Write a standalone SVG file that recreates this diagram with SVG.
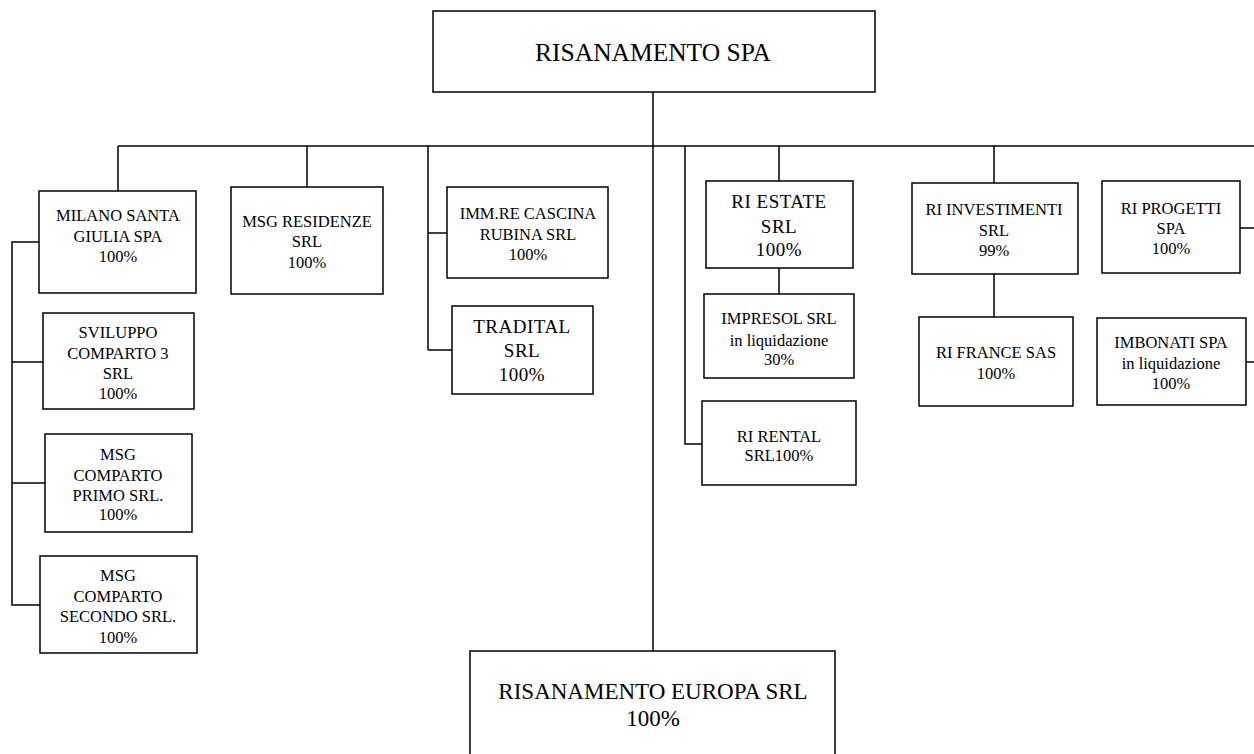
<svg xmlns="http://www.w3.org/2000/svg" width="1254" height="754" viewBox="0 0 1254 754">
<style>
rect.b{fill:#fff;stroke:#000;stroke-width:1.5}
.c line,.c polyline{stroke:#000;stroke-width:1.5;fill:none}
text{font-family:'Liberation Serif','Times New Roman',serif;fill:#000;text-anchor:middle}
.s{font-size:16.5px}
.m{font-size:19px;letter-spacing:0.5px}
.l{font-size:23px}
.t{font-size:25.5px}
</style>
<rect width="1254" height="754" fill="#fff"/>
<g class="c" id="connectors">
<line x1="653" y1="92" x2="653" y2="651"/>
<line x1="118" y1="146" x2="1254" y2="146"/>
<line x1="118" y1="146" x2="118" y2="191"/>
<line x1="307" y1="146" x2="307" y2="187"/>
<line x1="428" y1="146" x2="428" y2="350"/>
<line x1="428" y1="233" x2="447" y2="233"/>
<line x1="428" y1="350" x2="452" y2="350"/>
<polyline points="685,146 685,444 702,444"/>
<line x1="779" y1="146" x2="779" y2="181"/>
<line x1="779" y1="268" x2="779" y2="294"/>
<line x1="994" y1="146" x2="994" y2="183"/>
<line x1="994" y1="274" x2="994" y2="317"/>
<line x1="1240" y1="228" x2="1254" y2="228"/>
<line x1="1246" y1="362" x2="1254" y2="362"/>
<polyline points="39,242 12,242 12,605 40,605"/>
<line x1="12" y1="362" x2="43" y2="362"/>
<line x1="12" y1="483" x2="45" y2="483"/>
</g>
<g id="risanamento-spa"><rect class="b" x="433" y="11" width="442" height="81"/><text class="t" x="653" y="61">RISANAMENTO SPA</text></g>
<g id="milano-santa-giulia"><rect class="b" x="39" y="191" width="157" height="102"/><text class="s" x="118" y="221">MILANO SANTA</text><text class="s" x="118" y="242">GIULIA SPA</text><text class="s" x="118" y="262">100%</text></g>
<g id="msg-residenze"><rect class="b" x="231" y="187" width="152" height="107"/><text class="s" x="307" y="227">MSG RESIDENZE</text><text class="s" x="307" y="247">SRL</text><text class="s" x="307" y="268">100%</text></g>
<g id="sviluppo-comparto-3"><rect class="b" x="43" y="313" width="151" height="96"/><text class="s" x="118" y="338">SVILUPPO</text><text class="s" x="118" y="359">COMPARTO 3</text><text class="s" x="118" y="379">SRL</text><text class="s" x="118" y="399">100%</text></g>
<g id="msg-comparto-primo"><rect class="b" x="45" y="434" width="147" height="98"/><text class="s" x="118" y="460">MSG</text><text class="s" x="118" y="481">COMPARTO</text><text class="s" x="118" y="501">PRIMO SRL.</text><text class="s" x="118" y="520">100%</text></g>
<g id="msg-comparto-secondo"><rect class="b" x="40" y="556" width="157" height="97"/><text class="s" x="118" y="581">MSG</text><text class="s" x="118" y="602">COMPARTO</text><text class="s" x="118" y="622">SECONDO SRL.</text><text class="s" x="118" y="643">100%</text></g>
<g id="imm-cascina-rubina"><rect class="b" x="447" y="187" width="161" height="91"/><text class="s" x="528" y="219">IMM.RE CASCINA</text><text class="s" x="528" y="240">RUBINA SRL</text><text class="s" x="528" y="260">100%</text></g>
<g id="tradital"><rect class="b" x="452" y="306" width="141" height="88"/><text class="m" x="522" y="333">TRADITAL</text><text class="m" x="522" y="357">SRL</text><text class="m" x="522" y="381">100%</text></g>
<g id="ri-estate"><rect class="b" x="706" y="181" width="147" height="87"/><text class="m" x="779" y="208">RI ESTATE</text><text class="m" x="779" y="233">SRL</text><text class="m" x="779" y="256">100%</text></g>
<g id="impresol"><rect class="b" x="704" y="294" width="150" height="84"/><text class="s" x="779" y="324">IMPRESOL SRL</text><text class="s" x="779" y="346">in liquidazione</text><text class="s" x="779" y="365">30%</text></g>
<g id="ri-rental"><rect class="b" x="702" y="401" width="154" height="84"/><text class="s" x="779" y="442">RI RENTAL</text><text class="s" x="779" y="461">SRL100%</text></g>
<g id="ri-investimenti"><rect class="b" x="912" y="183" width="166" height="91"/><text class="s" x="994" y="215">RI INVESTIMENTI</text><text class="s" x="994" y="236">SRL</text><text class="s" x="994" y="256">99%</text></g>
<g id="ri-france"><rect class="b" x="919" y="317" width="154" height="89"/><text class="s" x="996" y="358">RI FRANCE SAS</text><text class="s" x="996" y="379">100%</text></g>
<g id="ri-progetti"><rect class="b" x="1102" y="181" width="138" height="92"/><text class="s" x="1171" y="214">RI PROGETTI</text><text class="s" x="1171" y="234">SPA</text><text class="s" x="1171" y="254">100%</text></g>
<g id="imbonati"><rect class="b" x="1097" y="318" width="149" height="87"/><text class="s" x="1171" y="348">IMBONATI SPA</text><text class="s" x="1171" y="369">in liquidazione</text><text class="s" x="1171" y="389">100%</text></g>
<g id="risanamento-europa"><rect class="b" x="470" y="651" width="365" height="110"/><text class="l" x="653" y="699">RISANAMENTO EUROPA SRL</text><text class="l" x="653" y="726">100%</text></g>
</svg>
